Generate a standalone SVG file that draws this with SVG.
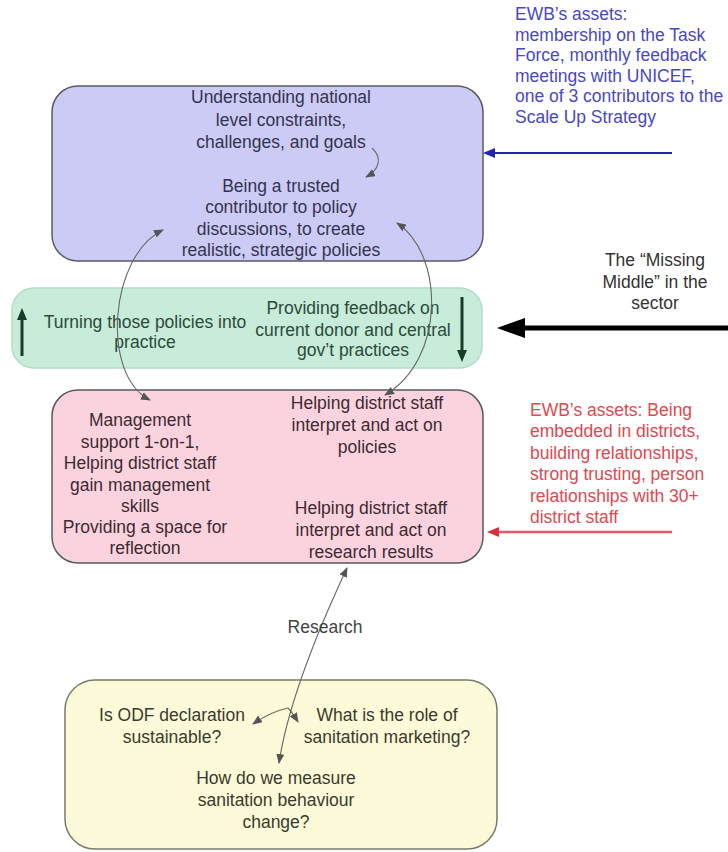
<svg xmlns="http://www.w3.org/2000/svg" width="728" height="852" viewBox="0 0 728 852">
<defs>
<style>
text{font-family:"Liberation Sans",Arial,sans-serif;font-size:17.5px;}
.c{text-anchor:middle;}
.box{stroke-width:1.5;}
.blueT{fill:#34344e;}
.greenT{fill:#2c4a3a;}
.pinkT{fill:#3e2a32;}
.yelT{fill:#3a3a2e;}
.thin{fill:none;stroke:#666;stroke-width:1.1;}
</style>
<marker id="ag" viewBox="0 0 10 8" markerWidth="10" markerHeight="8" refX="9" refY="4" markerUnits="userSpaceOnUse" orient="auto-start-reverse"><path d="M0,0 L10,4 L0,8 z" fill="#555"/></marker>
<marker id="ab" viewBox="0 0 12 10" markerWidth="12" markerHeight="10" refX="3" refY="5" markerUnits="userSpaceOnUse" orient="auto"><path d="M0,0 L12,5 L0,10 z" fill="#2424b4"/></marker>
<marker id="ar" viewBox="0 0 12 10" markerWidth="12" markerHeight="10" refX="3" refY="5" markerUnits="userSpaceOnUse" orient="auto"><path d="M0,0 L12,5 L0,10 z" fill="#d8303c"/></marker>
<marker id="agr" viewBox="0 0 12 10" markerWidth="12" markerHeight="10" refX="3" refY="5" markerUnits="userSpaceOnUse" orient="auto"><path d="M0,0 L12,5 L0,10 z" fill="#163d26"/></marker>
<marker id="ak" viewBox="0 0 28 20" markerWidth="28" markerHeight="20" refX="5" refY="10" markerUnits="userSpaceOnUse" orient="auto"><path d="M0,0 L28,10 L0,20 z" fill="#000"/></marker>
</defs>
<rect width="728" height="852" fill="#fff"/>

<g id="node-national">
<rect class="box" x="52" y="86" width="431" height="175" rx="26" fill="#cbcbf6" stroke="#5a5a66"/>
<text class="c blueT" x="281" y="103">Understanding national</text>
<text class="c blueT" x="281" y="126">level constraints,</text>
<text class="c blueT" x="281" y="148">challenges, and goals</text>
<text class="c blueT" x="281" y="192">Being a trusted</text>
<text class="c blueT" x="281" y="213">contributor to policy</text>
<text class="c blueT" x="281" y="235">discussions, to create</text>
<text class="c blueT" x="281" y="256">realistic, strategic policies</text>
</g>

<g id="node-middle">
<rect x="12" y="288" width="470" height="80" rx="22" fill="#c7ecd9" stroke="#b4dcc5" stroke-width="1.5"/>
<text class="c greenT" x="145" y="328">Turning those policies into</text>
<text class="c greenT" x="145" y="348">practice</text>
<text class="c greenT" x="353" y="314">Providing feedback on</text>
<text class="c greenT" x="353" y="336">current donor and central</text>
<text class="c greenT" x="353" y="356">gov’t practices</text>
</g>

<g id="node-district">
<rect class="box" x="52" y="390" width="431" height="173" rx="26" fill="#fad3de" stroke="#5a5a5a"/>
<text class="c pinkT" x="140" y="426">Management</text>
<text class="c pinkT" x="140" y="448">support 1-on-1,</text>
<text class="c pinkT" x="140" y="469">Helping district staff</text>
<text class="c pinkT" x="140" y="491">gain management</text>
<text class="c pinkT" x="140" y="512">skills</text>
<text class="c pinkT" x="145" y="533">Providing a space for</text>
<text class="c pinkT" x="145" y="554">reflection</text>
<text class="c pinkT" x="367" y="409">Helping district staff</text>
<text class="c pinkT" x="367" y="431">interpret and act on</text>
<text class="c pinkT" x="367" y="453">policies</text>
<text class="c pinkT" x="371" y="514">Helping district staff</text>
<text class="c pinkT" x="371" y="536">interpret and act on</text>
<text class="c pinkT" x="371" y="558">research results</text>
</g>

<g id="node-research">
<rect x="65" y="680" width="432" height="169" rx="30" fill="#fcfad8" stroke="#7a7a6a" stroke-width="1.5"/>
<text class="c yelT" x="172" y="721">Is ODF declaration</text>
<text class="c yelT" x="172" y="743">sustainable?</text>
<text class="c yelT" x="387" y="721">What is the role of</text>
<text class="c yelT" x="387" y="743">sanitation marketing?</text>
<text class="c yelT" x="276" y="784">How do we measure</text>
<text class="c yelT" x="276" y="806">sanitation behaviour</text>
<text class="c yelT" x="276" y="828">change?</text>
</g>

<g id="label-national-assets" fill="#4848c4">
<text x="515" y="20">EWB’s assets:</text>
<text x="515" y="41">membership on the Task</text>
<text x="515" y="61">Force, monthly feedback</text>
<text x="515" y="82">meetings with UNICEF,</text>
<text x="515" y="102">one of 3 contributors to the</text>
<text x="515" y="123">Scale Up Strategy</text>
</g>

<g id="label-missing-middle" fill="#333">
<text class="c" x="655" y="266">The “Missing</text>
<text class="c" x="655" y="288">Middle” in the</text>
<text class="c" x="655" y="309">sector</text>
</g>

<g id="label-district-assets" fill="#e04850">
<text x="530" y="416">EWB’s assets:  Being</text>
<text x="530" y="437">embedded in districts,</text>
<text x="530" y="459">building relationships,</text>
<text x="530" y="480">strong trusting, person</text>
<text x="530" y="502">relationships with 30+</text>
<text x="530" y="523">district staff</text>
</g>

<g id="connectors">
<line x1="672" y1="153" x2="492" y2="153" stroke="#2424b4" stroke-width="2" marker-end="url(#ab)"/>
<line x1="672" y1="532" x2="496" y2="532" stroke="#e85868" stroke-width="2.5" marker-end="url(#ar)"/>
<line x1="728" y1="328" x2="520" y2="328" stroke="#000" stroke-width="5" marker-end="url(#ak)"/>
<line x1="22" y1="356" x2="22" y2="317" stroke="#163d26" stroke-width="3" marker-end="url(#agr)"/>
<line x1="462" y1="297" x2="462" y2="353" stroke="#163d26" stroke-width="3" marker-end="url(#agr)"/>
<path class="thin" d="M372,148 C383,158 379,170 366,177" marker-end="url(#ag)"/>
<path class="thin" d="M150,400 C100,375 110,255 163,230" marker-start="url(#ag)" marker-end="url(#ag)"/>
<path class="thin" d="M397,223 C445,255 445,360 385,395" marker-start="url(#ag)" marker-end="url(#ag)"/>
<path class="thin" d="M347,568 Q290,690 279,763" marker-start="url(#ag)" marker-end="url(#ag)"/>
<path class="thin" d="M288,708 Q270,712 253,724" marker-end="url(#ag)"/>
<path class="thin" d="M288,708 Q292,712 298,722" marker-end="url(#ag)"/>
<text class="c" x="325" y="633" fill="#444">Research</text>
</g>
</svg>
